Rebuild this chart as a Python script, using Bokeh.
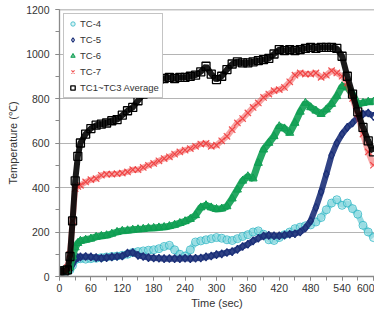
from bokeh.plotting import figure
from bokeh.models import ColumnDataSource, Range1d, SingleIntervalTicker, Span, Legend, LegendItem
from bokeh.embed import file_html
from bokeh.resources import INLINE

# Time axis (sec)
time_s = [0, 10, 15, 20, 25, 30, 35, 40] + list(range(50, 610, 10))

tc_avg = [25, 25, 30, 90, 250, 430, 540, 600,
          640, 665, 680, 685, 690, 700, 705, 725, 745, 760,
          790, 820, 850, 870, 885, 890, 895, 890, 895, 895,
          900, 905, 920, 945, 910, 885, 900, 930, 955, 965,
          960, 960, 965, 970, 975, 980, 1000, 1020, 1015, 1020,
          1015, 1020, 1025, 1030, 1025, 1030, 1030, 1030, 1025, 990,
          900, 820, 740, 670, 610, 560]

tc7 = [25, 25, 40, 100, 250, 395, 405, 410,
       425, 435, 440, 455, 460, 460, 462, 465, 470, 480,
       480, 490, 500, 508, 520, 530, 538, 550, 560, 568,
       575, 585, 595, 598, 585, 590, 610, 630, 660, 690,
       710, 735, 760, 780, 805, 820, 835, 840, 850, 875,
       905, 915, 910, 910, 915, 895, 905, 925, 915, 900,
       870, 800, 730, 640, 560, 500]

tc6 = [25, 25, 25, 40, 90, 130, 150, 160,
       165, 170, 178, 182, 185, 192, 200, 205, 207, 210,
       212, 214, 217, 218, 220, 222, 226, 232, 240, 248,
       258, 275, 310, 320, 310, 303, 305, 315, 350, 390,
       430, 450, 440, 510, 570, 600, 630, 675, 665, 645,
       690, 740, 780, 760, 745, 730, 750, 775, 810, 855,
       850, 820, 775, 780, 785, 785]

tc4 = [25, 25, 25, 30, 50, 75, 80, 80,
       78, 80, 82, 85, 88, 90, 92, 95, 100, 108,
       112, 115, 118, 120, 125, 135, 140, 120, 100, 92,
       120, 155, 160, 165, 170, 175, 172, 165, 162, 170,
       180, 188, 200, 205, 190, 165, 162, 175, 188, 200,
       215, 222, 228, 232, 245, 265, 300, 330, 345, 320,
       330, 305, 280, 230, 200, 175]

tc5 = [25, 25, 25, 30, 55, 78, 85, 88,
       90, 88, 85, 82, 85, 88, 90, 92, 105, 108,
       95, 90, 85, 83, 82, 80, 81, 80, 80, 82,
       80, 82, 83, 88, 92, 98, 102, 108, 112, 122,
       135, 145, 160, 172, 182, 185, 183, 183, 186, 190,
       192, 200, 218, 250, 310, 380, 460, 545, 600, 640,
       670, 690, 715, 730, 735, 720]

labels = ["TC-4", "TC-5", "TC-6", "TC-7", "TC1~TC3 Average"]
x_title = "Time (sec)"
y_title = "Temperature (℃)"

src = ColumnDataSource(dict(t=time_s, avg=tc_avg, tc7=tc7, tc6=tc6, tc4=tc4, tc5=tc5))

FONT = "Liberation Sans"

p = figure(width=374, height=311, output_backend="svg", toolbar_location=None,
           x_range=Range1d(0, 602), y_range=Range1d(0, 1200),
           min_border_left=59, min_border_right=0, min_border_top=9, min_border_bottom=0)

p.outline_line_color = None
p.background_fill_color = "white"
p.border_fill_color = "white"

# axes
p.xaxis.ticker = SingleIntervalTicker(interval=60, num_minor_ticks=2)
p.yaxis.ticker = SingleIntervalTicker(interval=200, num_minor_ticks=2)
for ax in (p.xaxis, p.yaxis):
    ax.axis_line_color = "#8a8a8a"
    ax.axis_line_width = 1.3
    ax.major_tick_line_color = "#8a8a8a"
    ax.minor_tick_line_color = "#8a8a8a"
    ax.major_tick_out = 4
    ax.major_tick_in = 0
    ax.minor_tick_out = 4
    ax.minor_tick_in = 0
    ax.major_label_text_font = FONT
    ax.major_label_text_font_size = "10.5px"
    ax.major_label_text_color = "#333333"
    ax.major_label_text_line_height = 0.9
    ax.axis_label_text_font = FONT
    ax.axis_label_text_font_size = "11px"
    ax.axis_label_text_font_style = "normal"
    ax.axis_label_text_color = "#333333"
    ax.axis_label_text_line_height = 0.9
p.xaxis.axis_label = x_title
p.yaxis.axis_label = y_title
p.xaxis.major_label_standoff = 3
p.xaxis.axis_label_standoff = 2
p.yaxis.major_label_standoff = 6
p.yaxis.axis_label_standoff = 4

p.xgrid.grid_line_color = None
p.ygrid.grid_line_color = "#b4b4b4"
p.ygrid.grid_line_width = 1.2

p.add_layout(Span(location=1200, dimension="width", line_color="#8a8a8a", line_width=1.5))

# series
c4, c5, c6, c7 = "#2fb6c4", "#1b2f78", "#0e9e52", "#ee3535"

p.line("t", "tc4", source=src, color=c4, line_width=6, alpha=0.5)
r4 = p.scatter("t", "tc4", source=src, marker="circle", size=8, line_color=c4,
               fill_color="#9fe0e6", fill_alpha=0.4, line_alpha=0.8)

p.line("t", "tc5", source=src, color=c5, line_width=6, alpha=0.9)
r5 = p.scatter("t", "tc5", source=src, marker="diamond", size=8, line_color=c5,
               fill_color=None, line_width=1.2)

p.line("t", "tc6", source=src, color=c6, line_width=7, alpha=0.9)
r6 = p.scatter("t", "tc6", source=src, marker="triangle", size=8, line_color=c6,
               fill_color=c6, fill_alpha=0.6, line_width=1)

p.line("t", "tc7", source=src, color=c7, line_width=6, alpha=0.45)
r7 = p.scatter("t", "tc7", source=src, marker="x", size=9, line_color=c7, line_width=1.2, line_alpha=0.85)

p.line("t", "avg", source=src, color="black", line_width=6, alpha=0.9)
ra = p.scatter("t", "avg", source=src, marker="square", size=8, line_color="black",
               fill_color=None, line_width=1.3)

legend = Legend(items=[LegendItem(label=l, renderers=[r]) for l, r in
                       zip(labels, [r4, r5, r6, r7, ra])],
                location="top_left")
legend.margin = 4
legend.padding = 3
legend.spacing = 3
legend.glyph_width = 11
legend.glyph_height = 13
legend.label_height = 13
legend.label_standoff = 2
legend.label_text_font = FONT
legend.label_text_font_size = "9.5px"
legend.label_text_color = "#333333"
legend.border_line_color = "#8a8a8a"
legend.border_line_width = 1
legend.background_fill_alpha = 1
p.add_layout(legend, "center")

open("out.html", "w").write(file_html(p, INLINE))
